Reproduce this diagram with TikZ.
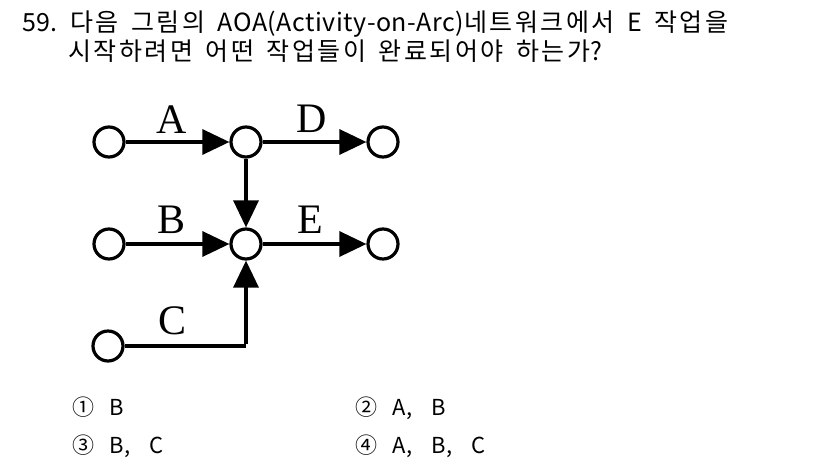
\documentclass[tikz,border=0pt]{standalone}
\usepackage{fontspec}
\setmainfont{Noto Sans CJK KR}
\newfontfamily\qfont[LetterSpace=2]{Noto Sans CJK KR}
\newfontfamily\krfont[LetterSpace=10]{Noto Sans CJK KR}
\newfontfamily\labfont{Liberation Serif}
\newcommand\widesp{\spaceskip=0.5em\relax}
\newcommand\kr[1]{{\krfont #1}}
\usetikzlibrary{arrows.meta}
\begin{document}
\begin{tikzpicture}[x=1pt,y=-1pt,
  ev/.style={circle,draw,line width=3.2pt,minimum size=30pt,inner sep=0pt},
  act/.style={line width=3.2pt,-{Triangle[length=27pt,width=25pt]}},
  actplain/.style={line width=3.2pt},
  lab/.style={font=\labfont\fontsize{42}{42}\selectfont,anchor=base,inner sep=0pt},
  txt/.style={font=\qfont\fontsize{25}{25}\selectfont,anchor=base west,inner sep=0pt},
  opt/.style={font=\qfont\fontsize{22}{22}\selectfont,anchor=base west,inner sep=0pt}]
\useasboundingbox (0,0) rectangle (826,469);
\node[txt] (q1) at (22,31.5) {\widesp 59.\ \kr{다음 그림의} AOA(Activity-on-Arc)\kr{네트워크에서} E \kr{작업을}};
\node[txt] (q2) at (68,60) {\widesp \kr{시작하려면 어떤 작업들이 완료되어야 하는가}?};
\node[ev] (a1) at (109,142) {};
\node[ev] (a2) at (246,142) {};
\node[ev] (a3) at (383,142) {};
\node[ev] (b1) at (109,244) {};
\node[ev] (b2) at (246,244) {};
\node[ev] (b3) at (383,244) {};
\node[ev] (c1) at (108,346) {};
\coordinate (cc) at (246,346);
\draw[act] (a1) -- (a2);
\draw[act] (a2) -- (a3);
\draw[act] (a2) -- (b2);
\draw[act] (b1) -- (b2);
\draw[act] (b2) -- (b3);
\draw[actplain] (c1.east) -- (cc);
\draw[act] ([yshift=1.6pt]cc) -- (b2);
\node[lab] (lA) at (172,133) {A};
\node[lab] (lD) at (312,132) {D};
\node[lab] (lB) at (172,233) {B};
\node[lab] (lE) at (310,233) {E};
\node[lab] (lC) at (173,334) {C};
\node[opt] (o1) at (72,415) {①\hspace{15pt}B};
\node[opt] (o2) at (355,415) {②\hspace{15pt}A,\hspace{19pt}B};
\node[opt] (o3) at (72,453) {③\hspace{15pt}B,\hspace{19pt}C};
\node[opt] (o4) at (355,453) {④\hspace{15pt}A,\hspace{19pt}B,\hspace{19pt}C};
\end{tikzpicture}
\end{document}
